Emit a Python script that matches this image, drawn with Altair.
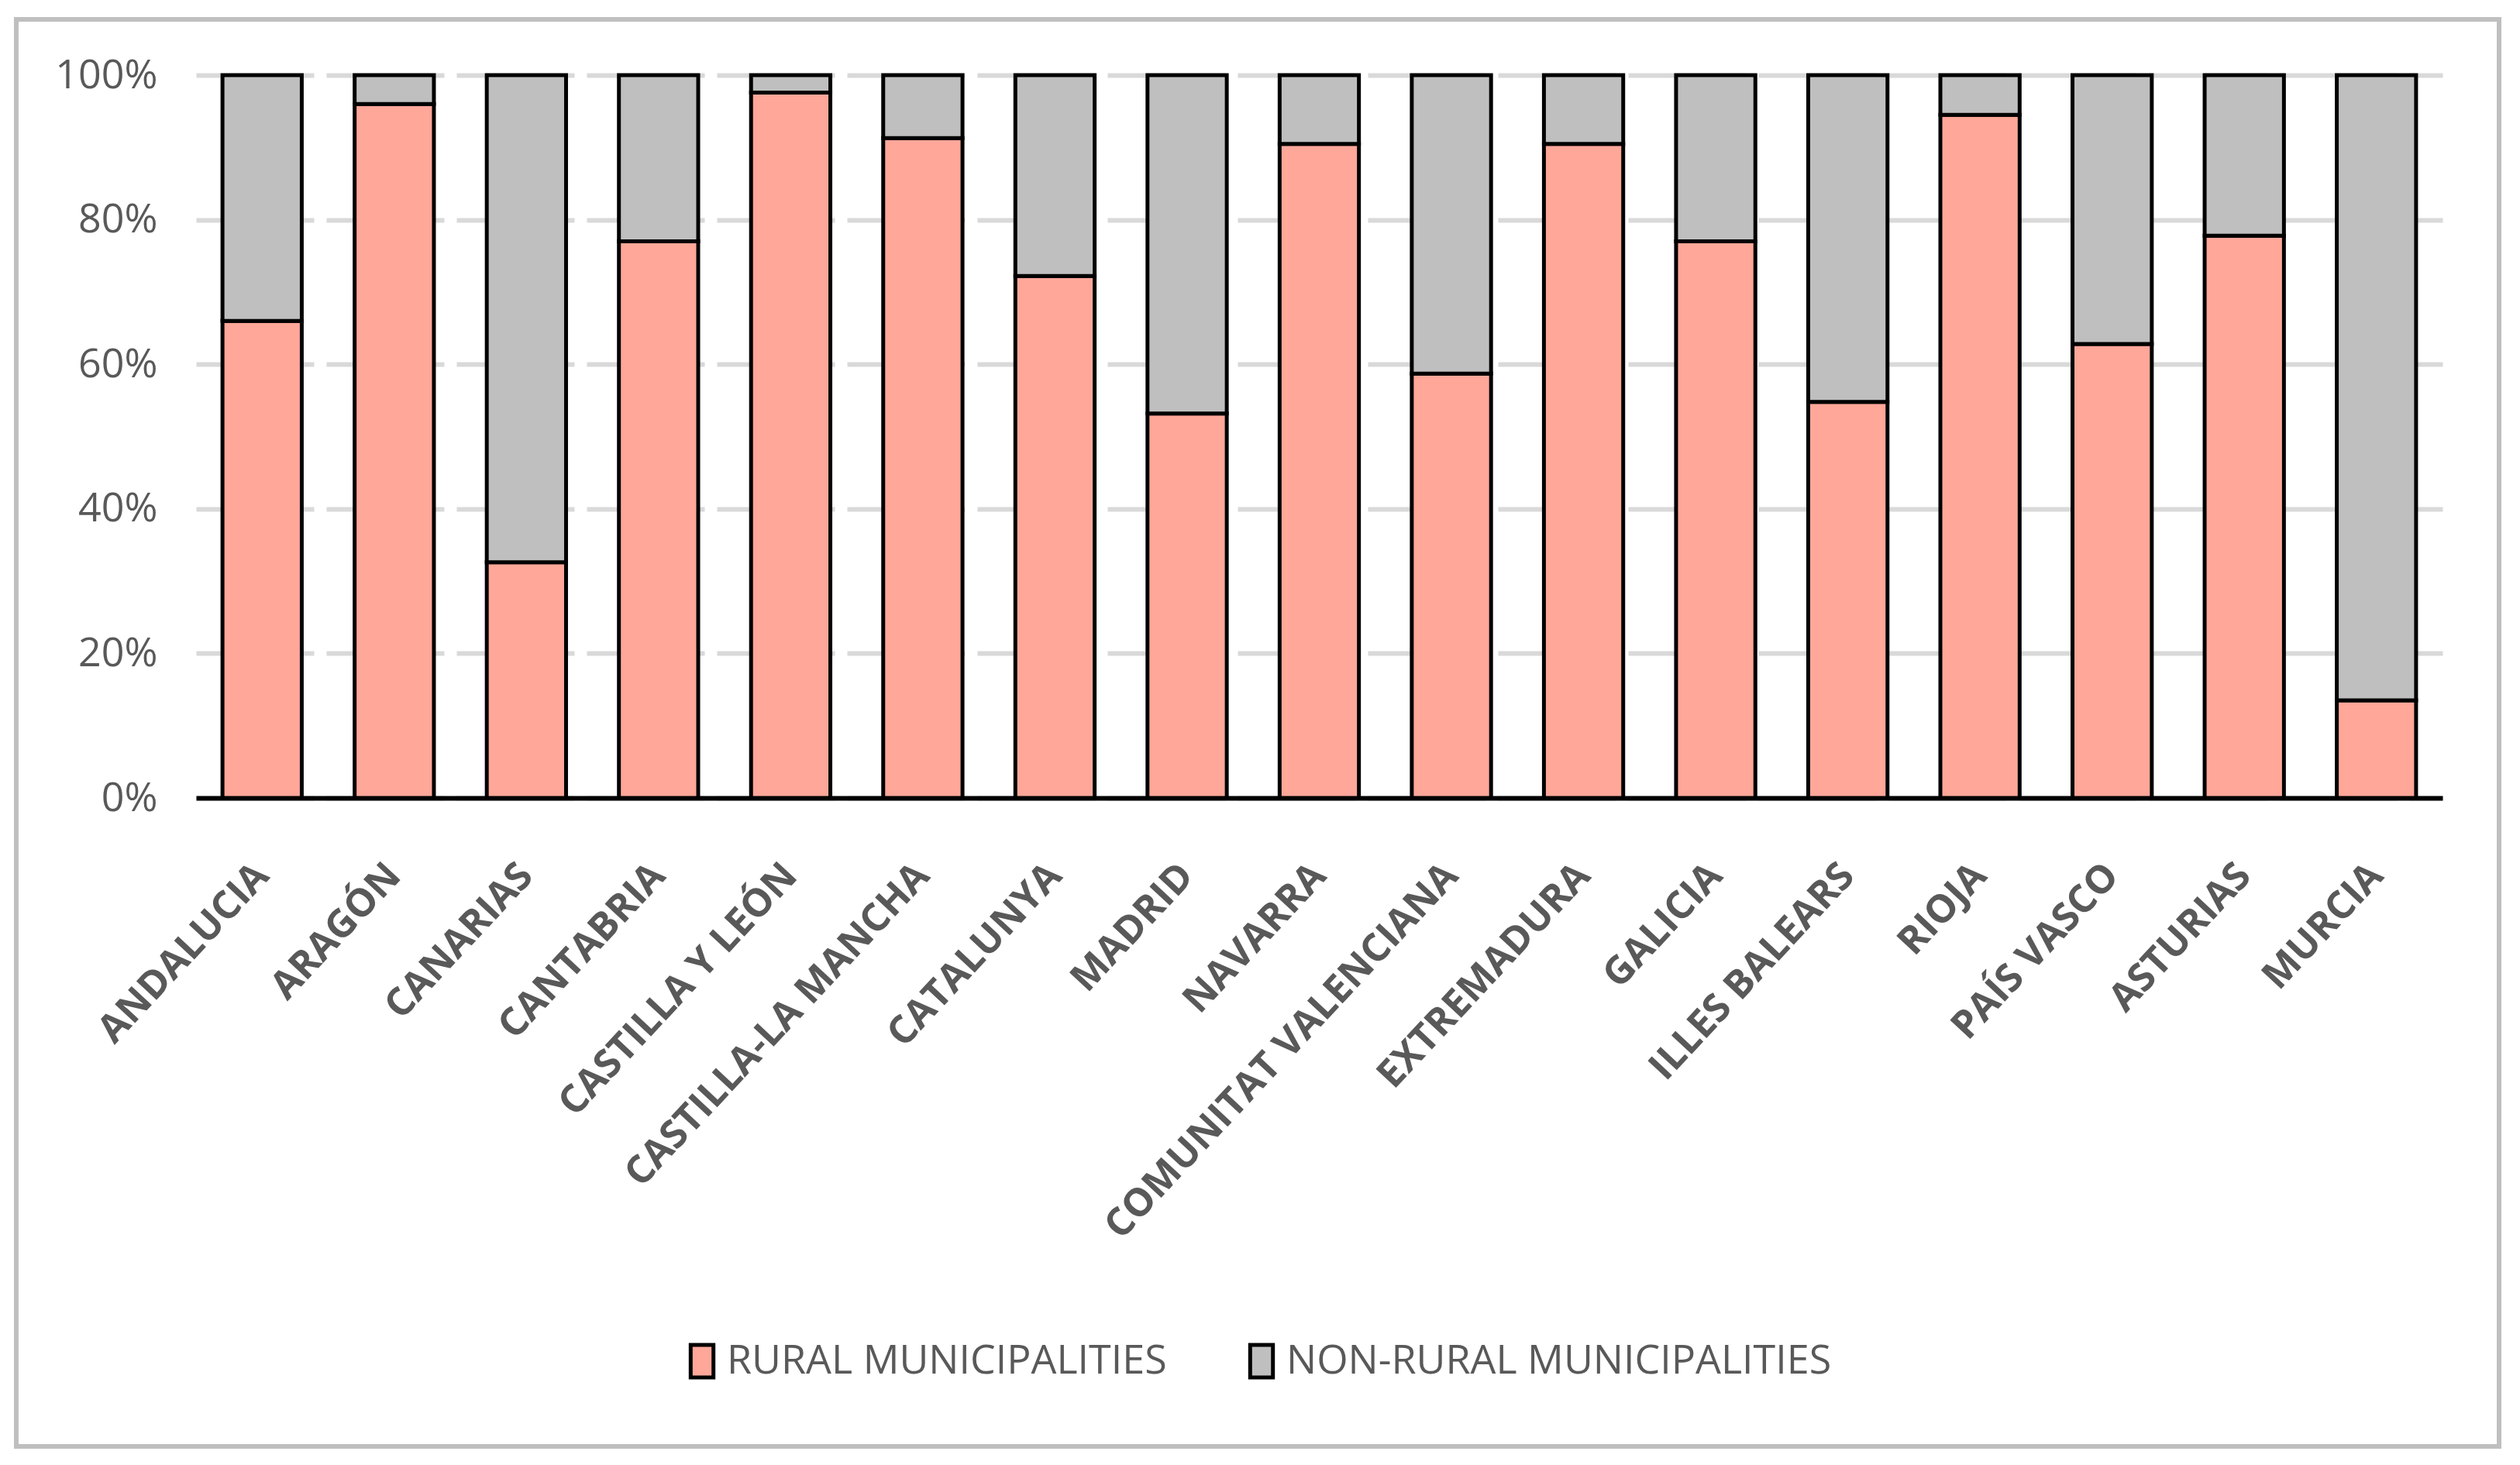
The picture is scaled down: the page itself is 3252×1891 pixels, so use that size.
import altair as alt
import pandas as pd

regions = ["ANDALUCIA", "ARAGÓN", "CANARIAS", "CANTABRIA", "CASTILLA Y LEÓN",
           "CASTILLA-LA MANCHA", "CATALUNYA", "MADRID", "NAVARRA",
           "COMUNITAT VALENCIANA", "EXTREMADURA", "GALICIA", "ILLES BALEARS",
           "RIOJA", "PAÍS VASCO", "ASTURIAS", "MURCIA"]
rural = [66.0, 96.0, 32.6, 77.0, 97.6, 91.3, 72.2, 53.2, 90.5, 58.7, 90.5,
         77.0, 54.8, 94.5, 62.8, 77.8, 13.5]
non_rural = [34.0, 4.0, 67.4, 23.0, 2.4, 8.7, 27.8, 46.8, 9.5, 41.3, 9.5,
             23.0, 45.2, 5.5, 37.2, 22.2, 86.5]
series = ["RURAL MUNICIPALITIES", "NON-RURAL MUNICIPALITIES"]
colors = ["#FFA799", "#BFBFBF"]

rows = []
for i, r in enumerate(regions):
    rows.append({"region": r, "type": series[0], "value": rural[i], "ord": 0})
    rows.append({"region": r, "type": series[1], "value": non_rural[i], "ord": 1})
df = pd.DataFrame(rows)

W, H = 2899, 933
TXT = "#595959"

frame = alt.Chart(pd.DataFrame({"a": [0]})).mark_rect(
    filled=False, stroke="#BFBFBF", strokeWidth=6
).encode(
    x=alt.value(-232), x2=alt.value(2972),
    y=alt.value(-72), y2=alt.value(1770)
)

bars = alt.Chart(df).mark_bar(stroke="black", strokeWidth=5).encode(
    x=alt.X("region:N", sort=regions,
            scale=alt.Scale(paddingInner=0.4, paddingOuter=0.2),
            axis=alt.Axis(title=None, labelAngle=-47, labelAlign="right",
                          labelBaseline="middle", labelPadding=92,
                          labelFont="Open Sans", labelFontWeight="bold",
                          labelFontSize=50, labelColor=TXT, labelLimit=1000,
                          ticks=False, domain=True, domainColor="black",
                          domainWidth=6, grid=False)),
    y=alt.Y("value:Q", stack="normalize",
            scale=alt.Scale(domain=[0, 1], nice=False),
            axis=alt.Axis(title=None, format=".0%",
                          values=[0, 0.2, 0.4, 0.6, 0.8, 1.0],
                          labelFont="Open Sans", labelFontSize=52,
                          labelColor=TXT, labelPadding=50,
                          ticks=False, domain=False,
                          grid=True, gridColor="#D9D9D9", gridWidth=6,
                          gridDash=[152, 16])),
    color=alt.Color("type:N", sort=series,
                    scale=alt.Scale(domain=series, range=colors),
                    legend=alt.Legend(title=None, orient="none",
                                      direction="horizontal", columns=2,
                                      legendX=627, legendY=1634,
                                      symbolType="M-0.7,-1H0.7V1H-0.7Z",
                                      symbolSize=1764, symbolStrokeColor="black",
                                      symbolStrokeWidth=5,
                                      labelFont="Open Sans", labelFontSize=52,
                                      labelColor=TXT, labelOffset=6,
                                      columnPadding=96, labelLimit=2000)),
    order=alt.Order("ord:Q", sort="ascending")
)

chart = alt.layer(frame, bars).properties(
    width=W, height=H,
    autosize=alt.AutoSizeParams(type="none"),
    padding={"left": 245, "top": 89, "right": 92, "bottom": 853},
    background="white"
).configure_view(stroke=None)

chart.save("out.html", embed_options={"renderer": "svg", "actions": False})
